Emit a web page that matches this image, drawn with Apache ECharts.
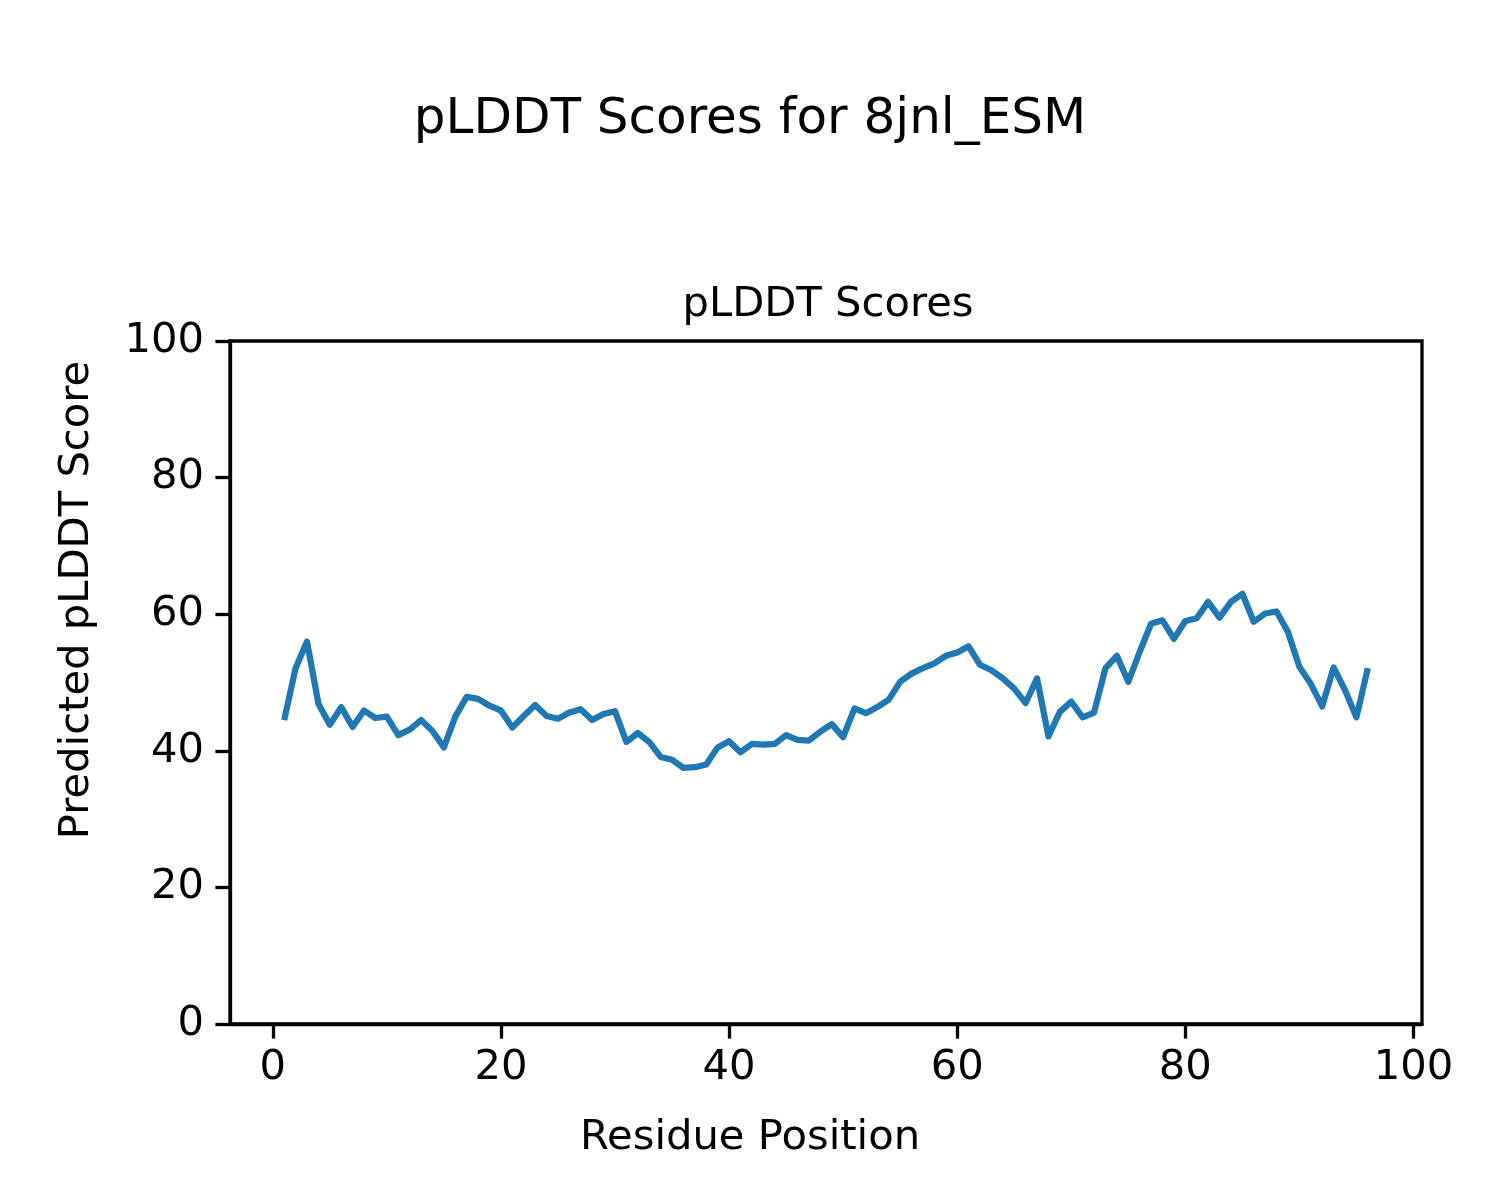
<!DOCTYPE html>
<html>
<head>
<meta charset="utf-8">
<script src="https://cdn.jsdelivr.net/npm/echarts@6/dist/echarts.min.js"></script>
<style>
html,body{margin:0;padding:0;background:#fff;}
#chart{width:1500px;height:1200px;}
</style>
</head>
<body>
<div id="chart"></div>
<script>
const residues = [1,2,3,4,5,6,7,8,9,10,11,12,13,14,15,16,17,18,19,20,21,22,23,24,25,26,27,28,29,30,31,32,33,34,35,36,37,38,39,40,41,42,43,44,45,46,47,48,49,50,51,52,53,54,55,56,57,58,59,60,61,62,63,64,65,66,67,68,69,70,71,72,73,74,75,76,77,78,79,80,81,82,83,84,85,86,87,88,89,90,91,92,93,94,95,96];
const scores = [44.5,52.1,56.0,46.9,43.8,46.4,43.5,45.9,44.8,45.0,42.3,43.1,44.5,42.9,40.5,45.0,47.9,47.6,46.6,45.9,43.4,45.1,46.7,45.1,44.7,45.6,46.1,44.5,45.4,45.8,41.3,42.6,41.3,39.1,38.7,37.5,37.6,38.0,40.5,41.4,39.8,41.0,40.9,41.0,42.3,41.6,41.5,42.8,43.9,42.0,46.2,45.5,46.4,47.5,50.1,51.3,52.1,52.8,53.9,54.4,55.3,52.6,51.8,50.6,49.1,47.0,50.6,42.1,45.7,47.2,44.9,45.6,52.1,53.9,50.1,54.5,58.6,59.1,56.4,59.0,59.4,61.8,59.5,61.8,63.0,58.9,60.1,60.4,57.4,52.3,49.8,46.5,52.2,48.9,44.9,52.1];
const xTicks = [0,20,40,60,80,100];
const yTicks = [0,20,40,60,80,100];

const FONT = 'DejaVu Sans';
const FS = 41.7;
const chart = echarts.init(document.getElementById('chart'), null, {renderer:'canvas'});
const data = residues.map((r,i)=>[r, scores[i]]);
chart.setOption({
  backgroundColor:'#ffffff',
  animation:false,
  title:[
    {text:'pLDDT Scores for 8jnl_ESM', left:745, textAlign:'center', top:90,
     textStyle:{fontFamily:FONT, fontSize:50, fontWeight:'normal', color:'#000'}},
    {text:'pLDDT Scores', left:823, textAlign:'center', top:279,
     textStyle:{fontFamily:FONT, fontSize:FS, fontWeight:'normal', color:'#000'}}
  ],
  graphic:[
    {type:'text', x:750, y:1138, style:{text:'Residue Position', textAlign:'center', textVerticalAlign:'middle', fontFamily:FONT, fontSize:FS, fill:'#000'}},
    {type:'text', x:77, y:600, rotation:Math.PI/2, style:{text:'Predicted pLDDT Score', textAlign:'center', textVerticalAlign:'middle', fontFamily:FONT, fontSize:FS, fill:'#000'}}
  ],
  grid:{left:230, right:78, top:341, bottom:176, show:true, borderColor:'#000', borderWidth:3.3, backgroundColor:'transparent', containLabel:false},
  xAxis:{
    type:'value', min:-3.75, max:100.75,
    axisLine:{show:true, onZero:false, lineStyle:{color:'#000', width:3.3}},
    axisTick:{show:true, inside:false, length:14.6, lineStyle:{color:'#000', width:3.3}, customValues:xTicks},
    axisLabel:{fontFamily:FONT, fontSize:FS, color:'#000', margin:23, customValues:xTicks},
    splitLine:{show:false}
  },
  yAxis:{
    type:'value', min:0, max:100, interval:20,
    axisLine:{show:true, onZero:false, lineStyle:{color:'#000', width:3.3}},
    axisTick:{show:true, inside:false, length:14.6, lineStyle:{color:'#000', width:3.3}, customValues:yTicks},
    axisLabel:{fontFamily:FONT, fontSize:FS, color:'#000', margin:26, customValues:yTicks},
    splitLine:{show:false}
  },
  series:[{
    type:'line', data:data, showSymbol:false, symbol:'none',
    lineStyle:{color:'#1f77b4', width:6.25, join:'round'}, smooth:false
  }]
});
</script>
</body>
</html>
